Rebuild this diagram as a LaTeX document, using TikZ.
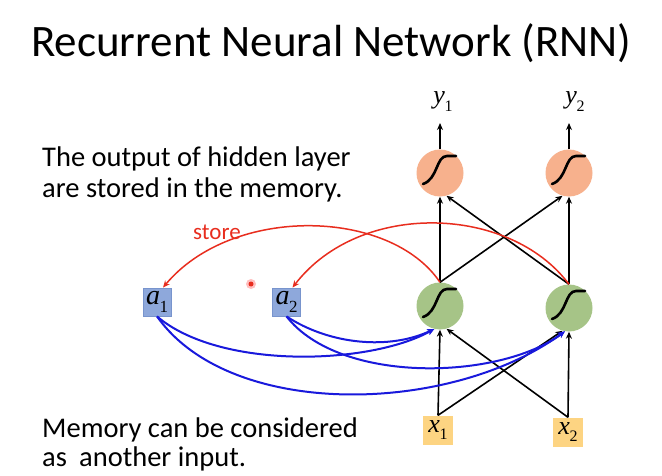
\documentclass[tikz,border=0pt]{standalone}
\usepackage{fontspec}
\setmainfont{Carlito}
\newfontfamily\tnr{Liberation Serif}
\usetikzlibrary{arrows.meta}
\definecolor{orangefill}{RGB}{247,177,141}
\definecolor{greenfill}{RGB}{166,196,135}
\definecolor{afill}{RGB}{142,168,219}
\definecolor{aborder}{RGB}{120,148,205}
\definecolor{xfill}{RGB}{253,212,130}
\definecolor{storered}{RGB}{232,45,30}
\definecolor{memblue}{RGB}{25,25,220}
\newcommand\mlab[3]{{\tnr\itshape #1}\kern-0.5pt\raisebox{-0.3em}{\tnr\fontsize{#3}{#3}\selectfont #2}}
\tikzset{
  txt/.style={anchor=base west, inner sep=0pt, font=\fontsize{28.5}{30}\selectfont},
  neuronO/.style={circle, fill=orangefill, minimum size=47pt, inner sep=0pt},
  neuronG/.style={circle, fill=greenfill, minimum size=47pt, inner sep=0pt},
  membox/.style={rectangle, fill=afill, draw=aborder, line width=0.8pt, minimum width=28pt, minimum height=28pt, inner sep=0pt, font=\fontsize{28}{28}\selectfont},
  inbox/.style={rectangle, fill=xfill, minimum width=30pt, minimum height=29pt, inner sep=0pt, font=\fontsize{26}{26}\selectfont},
  blk/.style={line width=1.6pt, -{Stealth[length=7pt,width=6pt]}},
  redarr/.style={storered, line width=1.5pt, -{Stealth[length=7pt,width=6pt]}},
  bluearr/.style={memblue, line width=2pt, -{Stealth[length=7pt,width=6pt]}},
  sigm/.pic={\draw[line width=2.6pt, line cap=round] (-17,11) .. controls (-2,6) and (-4,-17) .. (7,-17) -- (16,-17);}
}
\begin{document}
\begin{tikzpicture}[x=1pt,y=-1pt]
\useasboundingbox[fill=white] (0,0) rectangle (662,476);

\node[anchor=base west, inner sep=0pt, font=\fontsize{45}{48}\selectfont] (title) at (31,57) {Recurrent Neural Network (RNN)};

\node[txt] (t1) at (42,167) {The output of hidden layer};
\node[txt] (t2) at (42,197) {are stored in the memory.};
\node[txt] (m1) at (42,437) {Memory can be considered};
\node[txt] (m2) at (42,466) {as\hspace{0.2em} another input.};

\node[anchor=base west, inner sep=0pt, text=storered, font=\fontsize{23}{23}\selectfont] (store) at (193,240) {store};

% neurons
\node[neuronO] (o1) at (440,173) {};
\node[neuronO] (o2) at (569,173) {};
\node[neuronG] (h1) at (440,306) {};
\node[neuronG] (h2) at (569,308) {};
\pic at (o1) {sigm};
\pic at (o2) {sigm};
\pic at (h1) {sigm};
\pic at (h2) {sigm};

% outputs
\node[anchor=base, inner sep=0pt, font=\fontsize{26}{26}\selectfont] (y1) at (443,104) {\mlab{y}{1}{16}};
\node[anchor=base, inner sep=0pt, font=\fontsize{26}{26}\selectfont] (y2) at (575,104) {\mlab{y}{2}{16}};
\coordinate (y1b) at (440,123);
\coordinate (y2b) at (569,123);
\draw[blk] (o1.north) -- (y1b);
\draw[blk] (o2.north) -- (y2b);

% memory and inputs
\node[membox] (a1) at (157,302) {\mlab{a}{1}{17}};
\node[membox] (a2) at (286.5,302) {\mlab{a}{2}{17}};
\node[inbox] (x1) at (438,430) {\mlab{x}{1}{16}};
\node[inbox] (x2) at (568,432) {\mlab{x}{2}{16}};

% hidden -> output
\draw[blk] (h1.north) -- (o1.south);
\draw[blk] (h1.north) -- (o2.-106);
\draw[blk] (h2.north) -- (o1.-74);
\draw[blk] (h2.north) -- (o2.south);

% input -> hidden
\draw[blk] (x1.north) -- (h1.south);
\draw[blk] (x1.north) -- (h2.-106);
\draw[blk] (x2.north) -- (h1.-74);
\draw[blk] (x2.north) -- (h2.south);

% store (red)
\draw[redarr] (h1.north) .. controls (390,208) and (232,205) .. ([xshift=6pt]a1.north);
\draw[redarr] (h2.north) .. controls (510,205) and (360,200) .. ([xshift=6pt]a2.north);

% memory as input (blue)
\draw[bluearr] (a1.south) .. controls (220,370) and (370,365) .. (h1.-104);
\draw[bluearr] (a1.south) .. controls (230,420) and (450,415) .. (h2.-100);
\draw[bluearr] (a2.south) .. controls (330,345) and (390,350) .. (h1.-104);
\draw[bluearr] (a2.south) .. controls (340,385) and (500,380) .. (h2.-100);

% pointer dot
\node[circle, fill=red!25, minimum size=10pt, inner sep=0pt] (dotglow) at (251,284) {};
\node[circle, fill=storered, minimum size=5pt, inner sep=0pt] (dot) at (251,284) {};
\end{tikzpicture}
\end{document}
